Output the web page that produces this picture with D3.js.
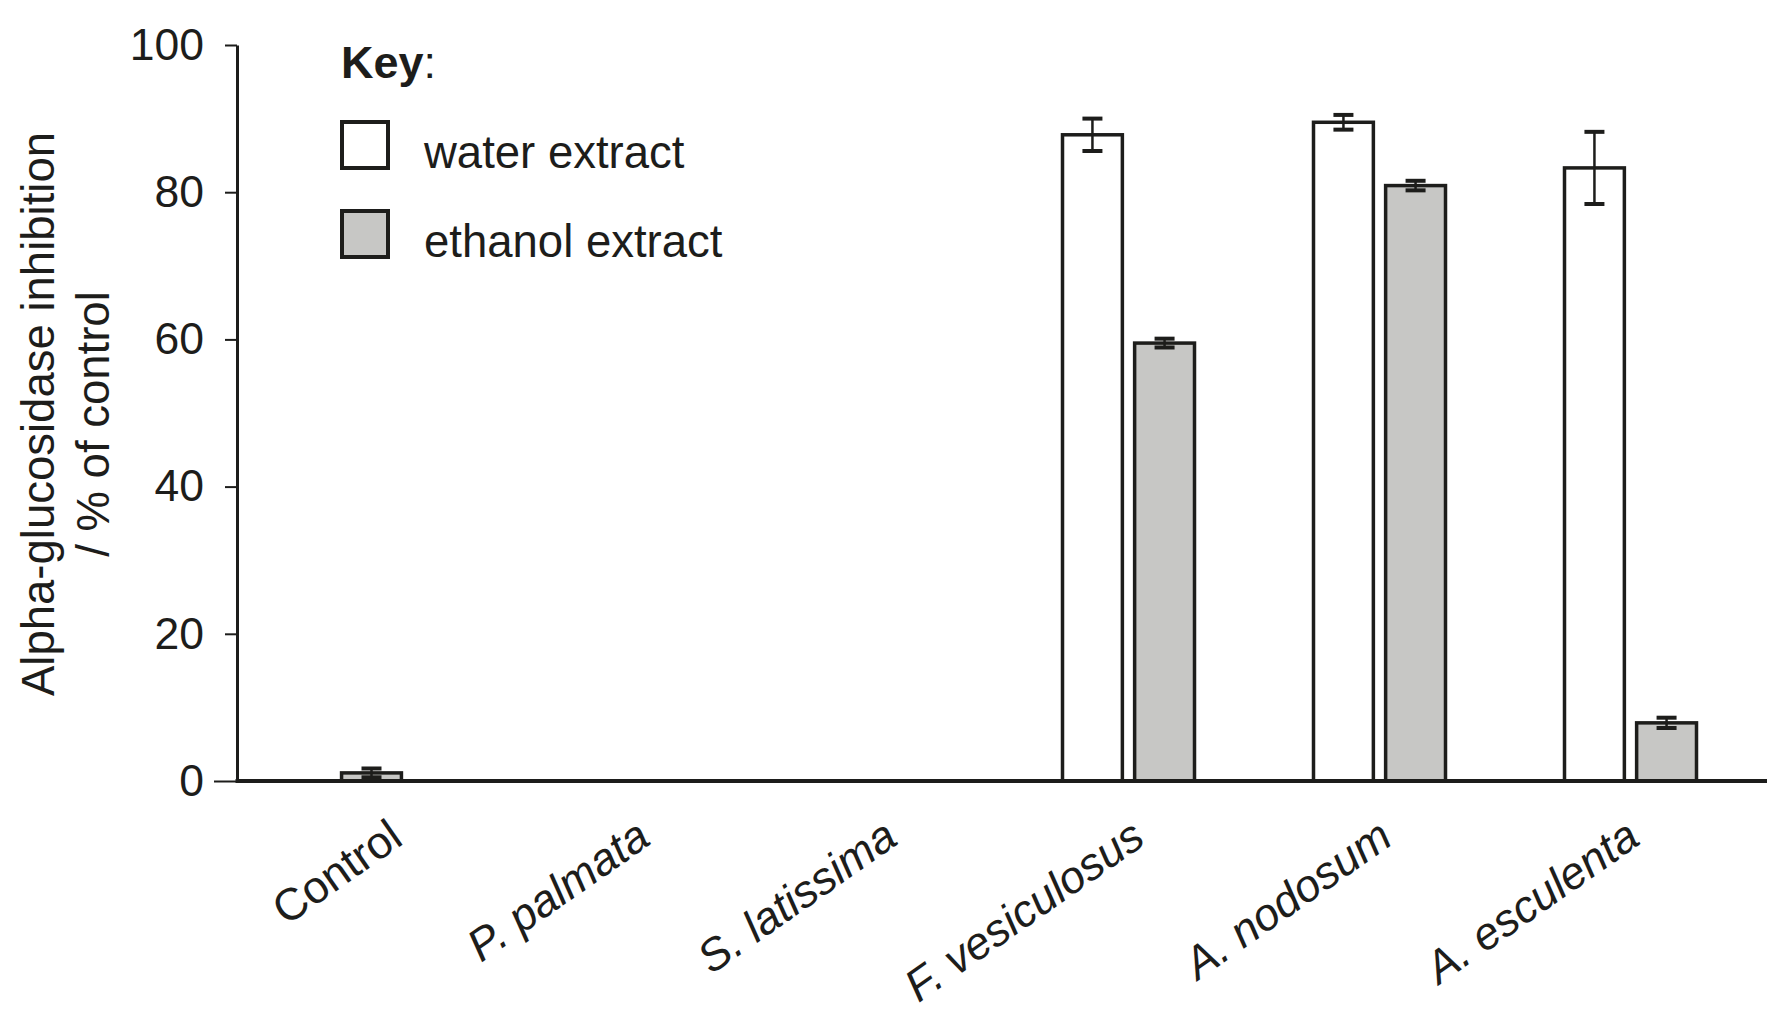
<!DOCTYPE html>
<html>
<head>
<meta charset="utf-8">
<script src="https://cdn.jsdelivr.net/npm/d3@7"></script>
<style>
  body { margin: 0; background: #fff; }
  svg text { font-family: "Liberation Sans", Arial, Helvetica, sans-serif; fill: #1d1d1b; }
</style>
</head>
<body>
<div id="chart"></div>
<script>
// data
const categories = ["Control", "P. palmata", "S. latissima", "F. vesiculosus", "A. nodosum", "A. esculenta"];
const italicCats = [false, true, true, true, true, true];
const series = ["water extract", "ethanol extract"];
const waterValues = [null, null, null, 87.8, 89.5, 83.3];
const waterErrors = [null, null, null, 2.2, 1.0, 4.9];
const ethanolValues = [null, null, null, 59.5, 80.9, 7.9];
const ethanolErrors = [null, null, null, 0.6, 0.65, 0.7];
const controlValue = 1.1;
const controlError = 0.6;
const yTicks = [0, 20, 40, 60, 80, 100];

const width = 1785, height = 1013;
const ink = "#1d1d1b", grayFill = "#c7c7c5";

const svg = d3.select("#chart").append("svg")
    .attr("width", width)
    .attr("height", height);

const axisX = 237;   // left axis position
const axisEnd = 1767;

const y = d3.scaleLinear().domain([0, 100]).range([781, 45]);

const x = d3.scaleBand().domain(categories).range([250, 1756]);
const bw = x.bandwidth();
const xSub = d3.scaleBand().domain(series)
    .range([bw / 2 - 66, bw / 2 + 66])
    .paddingInner(0.17);
const barW = xSub.bandwidth();

// label anchors (end of each slanted label) are spaced a bit tighter than the bars
const xLab = d3.scalePoint().domain(categories).range([405, 1642]);

// y axis
const yAxis = svg.append("g")
    .attr("transform", `translate(${axisX},0)`)
    .call(d3.axisLeft(y).tickValues(yTicks).tickSize(12).tickSizeOuter(0).tickPadding(21));
yAxis.select(".domain").attr("stroke", ink).attr("stroke-width", 3);
yAxis.selectAll(".tick line").attr("stroke", ink).attr("stroke-width", 2);
yAxis.selectAll(".tick line").filter(d => d === 0).attr("x2", -23);
yAxis.selectAll(".tick text")
    .style("font-size", "44.5px")
    .attr("fill", ink)
    .attr("font-family", null);

// bars
const rows = [];
categories.forEach((c, i) => {
    if (waterValues[i] != null) rows.push({cat: c, s: series[0], v: waterValues[i], e: waterErrors[i]});
    if (ethanolValues[i] != null) rows.push({cat: c, s: series[1], v: ethanolValues[i], e: ethanolErrors[i]});
});

const bars = svg.append("g");
bars.selectAll("rect.bar")
    .data(rows)
    .join("rect")
    .attr("class", "bar")
    .attr("x", d => x(d.cat) + xSub(d.s))
    .attr("y", d => y(d.v))
    .attr("width", barW)
    .attr("height", d => y(0) - y(d.v))
    .attr("fill", d => d.s === series[0] ? "#fff" : grayFill)
    .attr("stroke", ink)
    .attr("stroke-width", 3.5);

// control bar sits in the middle of its group
const ctrlX = x("Control") + bw / 2 - barW / 2 - 4;
bars.append("rect")
    .attr("x", ctrlX)
    .attr("y", y(controlValue))
    .attr("width", barW)
    .attr("height", y(0) - y(controlValue))
    .attr("fill", grayFill)
    .attr("stroke", ink)
    .attr("stroke-width", 3.5);

// error bars
const errRows = rows.map(d => ({cx: x(d.cat) + xSub(d.s) + barW / 2, v: d.v, e: d.e}));
errRows.push({cx: ctrlX + barW / 2, v: controlValue, e: controlError});

const err = svg.append("g").attr("stroke", ink);
err.selectAll("line.stem")
    .data(errRows)
    .join("line")
    .attr("class", "stem")
    .attr("x1", d => d.cx).attr("x2", d => d.cx)
    .attr("y1", d => y(d.v + d.e)).attr("y2", d => y(Math.max(0, d.v - d.e)))
    .attr("stroke-width", 2.5);
err.selectAll("line.cap")
    .data(errRows.flatMap(d => [{cx: d.cx, yv: d.v + d.e}, {cx: d.cx, yv: Math.max(0, d.v - d.e)}]))
    .join("line")
    .attr("class", "cap")
    .attr("x1", d => d.cx - 10).attr("x2", d => d.cx + 10)
    .attr("y1", d => y(d.yv)).attr("y2", d => y(d.yv))
    .attr("stroke-width", 4);

// x axis line
svg.append("line")
    .attr("x1", axisX - 1.5).attr("x2", axisEnd)
    .attr("y1", y(0)).attr("y2", y(0))
    .attr("stroke", ink)
    .attr("stroke-width", 4);

// category labels
svg.append("g").selectAll("text")
    .data(categories)
    .join("text")
    .attr("transform", d => `translate(${xLab(d)},${y(0) + 62}) rotate(-35)`)
    .attr("text-anchor", "end")
    .style("font-size", "45px")
    .style("font-style", (d, i) => italicCats[i] ? "italic" : "normal")
    .text(d => d);

// y axis title
const yTitle = svg.append("g");
yTitle.append("text")
    .attr("transform", "translate(54,414) rotate(-90)")
    .attr("text-anchor", "middle")
    .style("font-size", "45.5px")
    .text("Alpha-glucosidase inhibition");
yTitle.append("text")
    .attr("transform", "translate(109,424) rotate(-90)")
    .attr("text-anchor", "middle")
    .style("font-size", "45.5px")
    .text("/ % of control");

// legend
const legend = svg.append("g");
const keyText = legend.append("text")
    .attr("x", 341).attr("y", 78)
    .style("font-size", "45px");
keyText.append("tspan").style("font-weight", "bold").text("Key");
keyText.append("tspan").text(":");

const legY = d3.scalePoint().domain(series).range([122, 211]);
legend.selectAll("rect")
    .data(series)
    .join("rect")
    .attr("x", 342).attr("y", d => legY(d))
    .attr("width", 46).attr("height", 46)
    .attr("fill", (d, i) => i === 0 ? "#fff" : grayFill)
    .attr("stroke", ink)
    .attr("stroke-width", 4);
legend.selectAll("text.lab")
    .data(series)
    .join("text")
    .attr("class", "lab")
    .attr("x", 424).attr("y", d => legY(d) + 46)
    .style("font-size", "45.5px")
    .text(d => d);
</script>
</body>
</html>
